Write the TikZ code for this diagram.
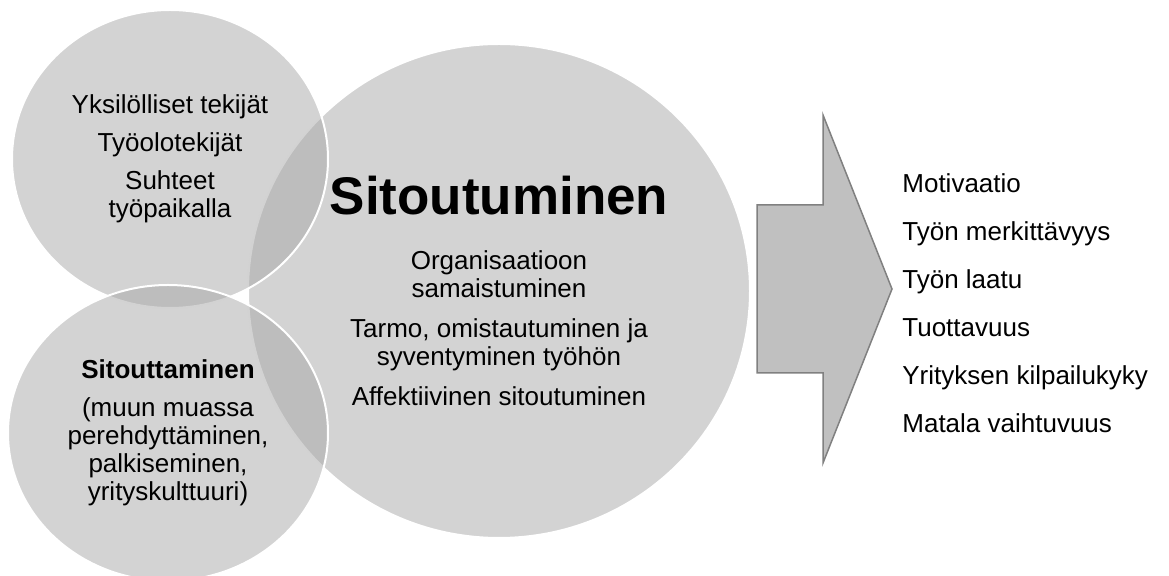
\documentclass[tikz,border=0pt]{standalone}
\usepackage{fontspec}
\setmainfont{Liberation Sans}
\usepackage{tikz}
\usetikzlibrary{positioning,shapes.geometric}

\definecolor{discgray}{RGB}{167,167,167}
\definecolor{arrowfill}{RGB}{192,192,192}
\definecolor{arrowline}{RGB}{128,128,128}

\begin{document}
\begin{tikzpicture}[
			x=0.5pt, y=-0.5pt,
			disc/.style={
				ellipse,
				draw=white,
				line width=1pt,
				fill=discgray,
				fill opacity=0.5,
				text opacity=1,
				inner sep=0pt,
				align=center,
				font=\fontsize{13}{14}\selectfont
			},
			result/.style={
				align=left,
				inner sep=0pt,
				font=\fontsize{13}{24}\selectfont
			}
			]
			\useasboundingbox (0,0) rectangle (1169,576);
			
			% ympyrät
			\node[disc, minimum width=251pt, minimum height=247pt] (sitoutuminen) at (499,291)
				{{\fontsize{26.5}{28}\selectfont\bfseries Sitoutuminen}\\[13.5pt]
				 Organisaatioon\\samaistuminen\\[6pt]
				 Tarmo, omistautuminen ja\\syventyminen työhön\\[6pt]
				 Affektiivinen sitoutuminen};
			\node[disc, minimum width=158pt, minimum height=149pt] (tekijat) at (170,159)
				{Yksilölliset tekijät\\[5pt]Työolotekijät\\[5pt]Suhteet\\työpaikalla};
			\node[disc, minimum width=160pt, minimum height=148pt] (sitouttaminen) at (168,433)
				{\textbf{Sitouttaminen}\\[5pt](muun muassa\\perehdyttäminen,\\palkiseminen,\\yrityskulttuuri)};
			
			% nuoli
			\draw[draw=arrowline, fill=arrowfill, line width=0.75pt]
				(757,205) -- (823,205) -- (823,115) -- (892,289)
				-- (823,463) -- (823,373) -- (757,373) -- cycle;
			
			% seuraukset
			\node[result, anchor=west] (seuraukset) at (902,303)
				{Motivaatio\\Työn merkittävyys\\Työn laatu\\Tuottavuus\\Yrityksen kilpailukyky\\Matala vaihtuvuus};
		\end{tikzpicture}
\end{document}
